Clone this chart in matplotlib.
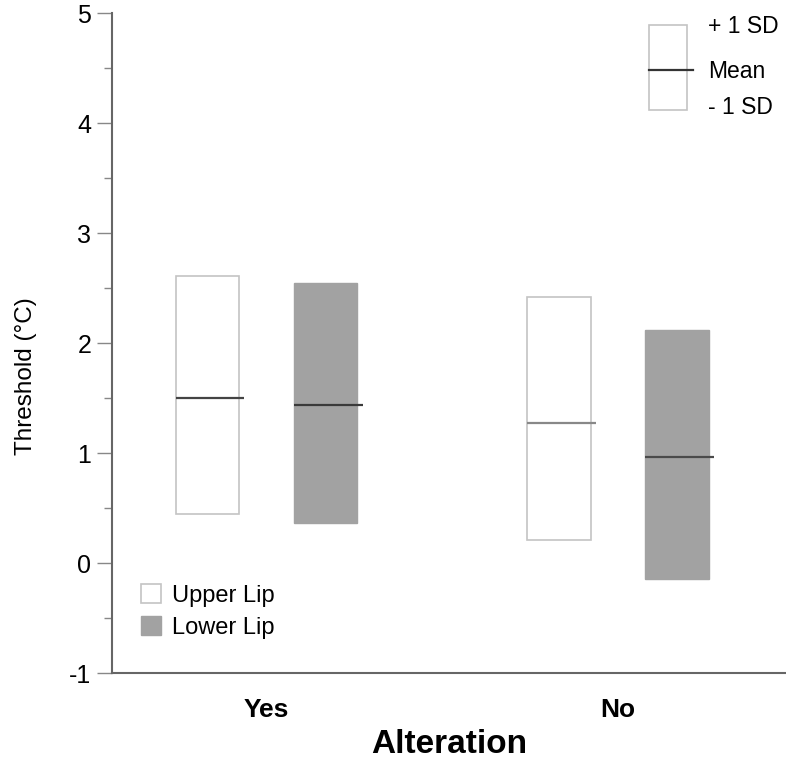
import numpy as np
import matplotlib
matplotlib.use("Agg")
import matplotlib.pyplot as plt
from matplotlib.ticker import FuncFormatter

plt.rcParams['font.family'] = ['Liberation Sans', 'DejaVu Sans']

groups = ['Yes', 'No']

# threshold (deg C): mean and mean +/- 1 SD
upper_mean = [1.50, 1.28]
upper_hi = [2.61, 2.42]
upper_lo = [0.45, 0.21]

lower_mean = [1.44, 0.97]
lower_hi = [2.55, 2.12]
lower_lo = [0.37, -0.14]

fig = plt.figure(figsize=(7.86, 7.62), dpi=100)
ax = fig.add_axes([0.1425, 0.1164, 0.8575, 0.866])

x = np.arange(len(groups))
w = 0.18
off = 0.168
ext = 0.015

ax.bar(x - off, np.array(upper_hi) - np.array(upper_lo), bottom=upper_lo, width=w,
       facecolor='white', edgecolor='#c4c4c4', linewidth=1.2, label='Upper Lip')
ax.bar(x + off, np.array(lower_hi) - np.array(lower_lo), bottom=lower_lo, width=w,
       facecolor='#a2a2a2', edgecolor='#a2a2a2', linewidth=1.0, label='Lower Lip')

ax.hlines(upper_mean, x - off - w / 2, x - off + w / 2 + ext,
          colors=['#444444', '#888888'], linewidth=1.6)
ax.hlines(lower_mean, x + off - w / 2, x + off + w / 2 + ext,
          colors=['#3a3a3a', '#4a4a4a'], linewidth=1.6)

# key for the bar ends / mean line
ax.add_patch(plt.Rectangle((0.797, 0.8535), 0.0566, 0.1295, transform=ax.transAxes,
                           facecolor='white', edgecolor='#c4c4c4', linewidth=1.2))
ax.plot([0.797, 0.8615], [0.915, 0.915], transform=ax.transAxes, color='#333333', lw=1.6)
ax.text(0.884, 0.98, '+ 1 SD', transform=ax.transAxes, fontsize=16.5, va='center')
ax.text(0.884, 0.9126, 'Mean', transform=ax.transAxes, fontsize=16.5, va='center')
ax.text(0.884, 0.858, '- 1 SD', transform=ax.transAxes, fontsize=16.5, va='center')

ax.legend(loc='upper left', bbox_to_anchor=(0.043, 0.135), frameon=False, fontsize=17,
          handlelength=0.85, handleheight=0.85, handletextpad=0.45, labelspacing=0.4,
          borderpad=0, borderaxespad=0)

ax.set_xlim(-0.44, 1.478)
ax.set_ylim(-1, 5)
ax.set_yticks(range(-1, 6))
ax.set_yticks(np.arange(-0.5, 5, 1.0), minor=True)
ax.yaxis.set_major_formatter(FuncFormatter(lambda v, p: '%d' % v))
ax.set_xticks(x)
ax.set_xticklabels(groups, fontsize=19, fontweight='bold')

for s in ['top', 'right']:
    ax.spines[s].set_visible(False)
for s in ['left', 'bottom']:
    ax.spines[s].set_color('#666666')
    ax.spines[s].set_linewidth(1.5)

ax.tick_params(axis='y', which='major', length=11, width=1.0, color='#888888',
               labelsize=18, pad=4)
ax.tick_params(axis='y', which='minor', length=6, width=1.0, color='#888888')
ax.tick_params(axis='x', length=0, pad=18)

ax.set_ylabel('Threshold (°C)', fontsize=17.5)
ax.yaxis.set_label_coords(-0.111, 0.45)
ax.set_xlabel('Alteration', fontsize=24, fontweight='bold', labelpad=5)

fig.savefig('out.png', dpi=100, facecolor='white')
